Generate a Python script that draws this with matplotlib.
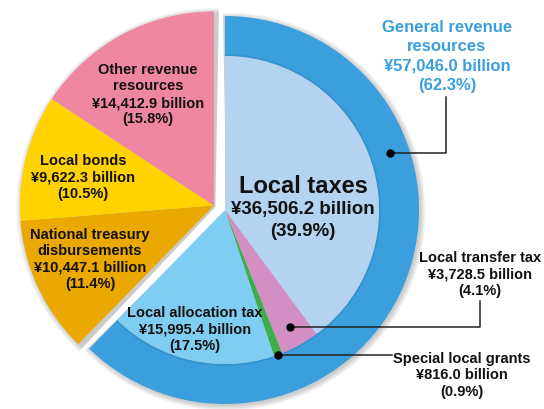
import numpy as np
import matplotlib.pyplot as plt
from matplotlib.patches import Wedge

# revenue items, clockwise from 12 o'clock
names = ["Local taxes", "Local transfer tax", "Special local grants",
         "Local allocation tax", "National treasury\ndisbursements",
         "Local bonds", "Other revenue\nresources"]
values = [36506.2, 3728.5, 816.0, 15995.4, 10447.1, 9622.3, 14412.9]
pcts = [39.9, 4.1, 0.9, 17.5, 11.4, 10.5, 15.8]
n_general = 4
general_total = 57046.0
general_pct = 62.3
colors = ["#b3d3f0", "#d38fc3", "#3cae4a", "#80cdf2",
          "#eba800", "#ffd200", "#ef86a2"]
ring_color = "#3a9fdc"

FONT = "Liberation Sans"

fig = plt.figure(figsize=(5.44, 4.10), dpi=100)
ax = fig.add_axes([0, 0, 1, 1])
ax.set_xlim(0, 544)
ax.set_ylim(410, 0)   # pixel-like coords, y down
ax.axis("off")

total = sum(values)
edges = np.concatenate([[0], np.cumsum(values)]) / total * 360  # clockwise deg from top

cx, cy = 225, 211
R, r_in = 194, 154
# left group pulled out along its mid angle
g_end = edges[n_general]
mid = (g_end + 360) / 2
off = 12
lx = cx + off * np.sin(np.radians(mid))
ly = cy - off * np.cos(np.radians(mid))


def wedge(x, y, r, a1, a2, **kw):
    # with y inverted, clockwise visual angle a -> theta = a - 90
    return Wedge((x, y), r, a1 - 90, a2 - 90, **kw)


def pt(x, y, r, a):
    return x + r * np.sin(np.radians(a)), y - r * np.cos(np.radians(a))


# soft shadow
for k in range(6):
    a = 0.08
    ax.add_patch(wedge(cx + 1.5, cy + 1.5, R + k, -1, g_end + 1, color="gray", alpha=a, lw=0))
    ax.add_patch(wedge(lx + 1.5, ly + 1.5, R + k, g_end - 1, 361, color="gray", alpha=a, lw=0))

# outer ring for general revenue resources
ax.add_patch(wedge(cx, cy, R, 0, g_end, width=R - r_in, color=ring_color, lw=0))
ax.add_patch(wedge(cx, cy, r_in + 2, 0, g_end, width=3, color="#2d7fb5", alpha=0.35, lw=0))

for i in range(len(values)):
    if i < n_general:
        ax.add_patch(wedge(cx, cy, r_in, edges[i], edges[i + 1], color=colors[i], lw=0))
    else:
        ax.add_patch(wedge(lx, ly, R, edges[i], edges[i + 1], color=colors[i], lw=0))


def label(x, y, i, size=10.5, spacing=16.5):
    lines = names[i].split("\n") + ["¥{:,.1f} billion".format(values[i]),
                                    "({:.1f}%)".format(pcts[i])]
    for k, s in enumerate(lines):
        ax.text(x, y + k * spacing, s, ha="center", va="center", fontsize=size,
                fontweight="bold", family=FONT, color="#111111")


# centre label
ax.text(303, 187, names[0], ha="center", va="center", fontsize=17,
        fontweight="bold", family=FONT, color="#111111")
ax.text(303, 210, "¥{:,.1f} billion".format(values[0]), ha="center", va="center",
        fontsize=13.5, fontweight="bold", family=FONT, color="#111111")
ax.text(303, 232, "({:.1f}%)".format(pcts[0]), ha="center", va="center",
        fontsize=13.5, fontweight="bold", family=FONT, color="#111111")

label(148, 70, 6)
label(83, 161, 5)
label(90, 235, 4)
label(195, 313, 3)

# callouts
gx, gy = pt(cx, cy, (R + r_in) / 2, 71)
ax.plot([gx, 446, 446], [gy, gy, 98], color="#222222", lw=1.1)
ax.plot(gx, gy, "o", color="black", ms=5)
for k, s in enumerate(["General revenue", "resources",
                       "¥{:,.1f} billion".format(general_total),
                       "({:.1f}%)".format(general_pct)]):
    ax.text(447, 27 + k * 19.5, s, ha="center", va="center", fontsize=12,
            fontweight="bold", family=FONT, color=ring_color)

tx, ty = pt(cx, cy, 134, (edges[1] + edges[2]) / 2)
ax.plot([tx, 480, 480], [ty, ty, 302], color="#222222", lw=1.1)
ax.plot(tx, ty, "o", color="black", ms=5)
label(480, 258, 1)

sx, sy = pt(cx, cy, r_in, (edges[2] + edges[3]) / 2)
ax.plot([sx, 392], [sy, sy], color="#222222", lw=1.1)
ax.plot(sx, sy, "o", color="black", ms=5)
label(462, 359, 2)

fig.savefig("out.png", dpi=100)
